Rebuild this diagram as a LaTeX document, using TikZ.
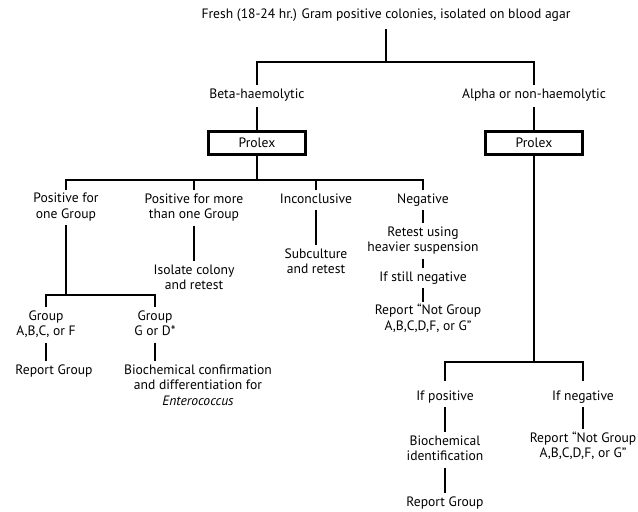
\documentclass[tikz,border=0pt]{standalone}
\usepackage{fontspec}
\setmainfont{PT Sans}
\begin{document}
\begin{tikzpicture}[x=0.75pt,y=-0.75pt,
  lbl/.style={inner sep=0pt,outer sep=1.5pt,align=center,font=\fontsize{10.2pt}{11.7pt}\selectfont},
  box/.style={draw,line width=2.4pt,minimum width=72.75pt,minimum height=17.25pt,inner sep=0pt,font=\fontsize{10.2pt}{11.7pt}\selectfont},
  conn/.style={line width=2.1pt}]
\useasboundingbox (0,0) rectangle (638,511);
% nodes
\node[lbl] (top) at (386,15) {\strut Fresh (18-24 hr.) Gram positive colonies, isolated on blood agar};
\node[lbl] (beta) at (257,95) {\strut Beta-haemolytic};
\node[lbl] (alpha) at (534,95) {\strut Alpha or non-haemolytic};
\node[box] (prolexA) at (257,143) {Prolex};
\node[box] (prolexB) at (534,143) {Prolex};
\node[lbl] (pos1) at (66,207.5) {\strut Positive for\\\strut one Group};
\node[lbl] (pos2) at (194,208) {\strut Positive for more\\\strut than one Group};
\node[lbl] (inc) at (316,200) {\strut Inconclusive};
\node[lbl] (neg) at (423,200) {\strut Negative};
\node[lbl] (iso) at (194,279) {\strut Isolate colony\\\strut and retest};
\node[lbl] (sub) at (316,263) {\strut Subculture\\\strut and retest};
\node[lbl] (retest) at (423,241) {\strut Retest using\\\strut heavier suspension};
\node[lbl] (still) at (423,278) {\strut If still negative};
\node[lbl] (notA) at (428,319.5) {\strut Report \textquotedblleft Not Group\\\strut A,B,C,D,F, or G\textquotedblright};
\node[lbl] (grpA) at (46,325) {\strut Group\\\strut A,B,C, or F};
\node[lbl] (grpG) at (155,325) {\strut Group\\\strut G or D*};
\node[lbl] (repA) at (54,371) {\strut Report Group};
\node[lbl] (bio) at (198,386.5) {\strut Biochemical confirmation\\\strut and differentiation for\\\strut\textit{Enterococcus}};
\node[lbl] (ifpos) at (445,397) {\strut If positive};
\node[lbl] (ifneg) at (583,397) {\strut If negative};
\node[lbl] (bio2) at (445,450) {\strut Biochemical\\\strut identification};
\node[lbl] (repB) at (445,503) {\strut Report Group};
\node[lbl] (notB) at (583,447) {\strut Report \textquotedblleft Not Group\\\strut A,B,C,D,F, or G\textquotedblright};
% junctions
\coordinate (j1) at (386,62);
\coordinate (j2) at (257,180);
\coordinate (j3) at (66,295);
\coordinate (j4) at (534,362);
% connectors
\draw[conn,shorten <=3pt] (top.south) -- (j1);
\draw[conn] (beta.north) |- (j1) -| (alpha.north);
\draw[conn,shorten <=2pt] (beta.south) -- (prolexA.north);
\draw[conn,shorten <=2pt] (alpha.south) -- (prolexB.north);
\draw[conn] (prolexA.south) -- (j2);
\draw[conn] (pos1.north) |- (j2) -| (neg.north);
\draw[conn] (pos2.north) -- (pos2.north |- j2);
\draw[conn] (inc.north) -- (inc.north |- j2);
\draw[conn] (pos2.south) -- (iso.north);
\draw[conn] (inc.south) -- (sub.north);
\draw[conn] (neg.south) -- (retest.north);
\draw[conn] (retest.south) -- (still.north);
\draw[conn] (still.south) -- (still.south |- notA.north);
\draw[conn] (pos1.south) -- (j3);
\draw[conn] (grpA.north) |- (j3) -| (grpG.north);
\draw[conn] (grpA.south) -- (grpA.south |- repA.north);
\draw[conn] (grpG.south) -- (grpG.south |- bio.north);
\draw[conn] (prolexB.south) -- (j4);
\draw[conn,shorten <=5pt,shorten >=5pt] (ifpos.north) |- (j4) -| (ifneg.north);
\draw[conn] (ifpos.south) -- (bio2.north);
\draw[conn] (bio2.south) -- (repB.north);
\draw[conn] (ifneg.south) -- (notB.north);
\end{tikzpicture}
\end{document}
